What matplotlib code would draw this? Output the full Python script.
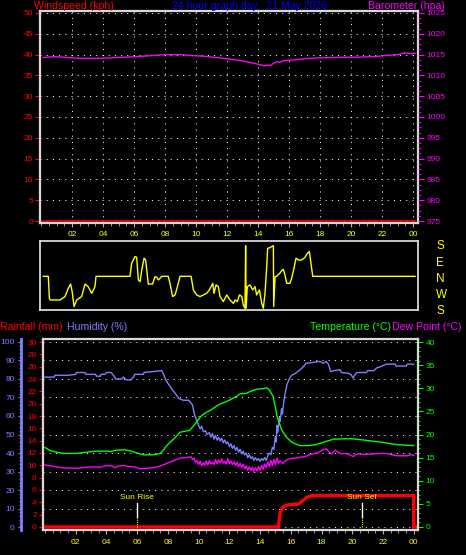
import numpy as np
import matplotlib
matplotlib.use('Agg')
import matplotlib.pyplot as plt
from matplotlib.ticker import MultipleLocator

plt.rcParams['font.family'] = ['Liberation Sans', 'DejaVu Sans']

# ---- data ----
hour_labels = ['02', '04', '06', '08', '10', '12', '14', '16', '18', '20', '22', '00']
hour_ticks = [2, 4, 6, 8, 10, 12, 14, 16, 18, 20, 22, 24]

wind_hours = [0.13, 24.13]
wind_speed = [0, 0]

baro_hours = [0.13, 0.8, 1.4, 2.0, 2.6, 3.5, 4.5, 5.5, 6.5, 7.3, 8.0, 9.0, 9.6, 10.5, 11.3,
              12.0, 12.8, 13.5, 14.0, 14.4, 14.6, 14.8, 15.0, 15.2, 15.4, 15.6, 16.2, 17.0,
              17.8, 19.0, 20.5, 21.5, 22.3, 23.0, 23.5, 23.9, 24.13]
baro_hpa = [1014.3, 1014.5, 1014.4, 1014.2, 1014.1, 1014.1, 1014.2, 1014.4, 1014.6, 1014.8,
            1015.0, 1015.0, 1014.8, 1014.6, 1014.3, 1014.0, 1013.6, 1013.1, 1012.7, 1012.3,
            1012.5, 1012.4, 1012.9, 1013.3, 1013.1, 1013.5, 1013.7, 1014.0, 1014.2, 1014.3,
            1014.4, 1014.5, 1014.8, 1015.0, 1015.4, 1015.2, 1015.3]

# wind direction, degrees unwrapped so that S = 180 (bottom) ... S = 540 (top)
dir_hours = [0.15, 0.47, 0.54, 0.6, 1.23, 1.55, 1.76, 1.91, 2.02, 2.13, 2.3, 2.62, 2.84, 3.05,
             3.27, 3.48, 3.55, 5.74, 5.85, 6.06, 6.17, 6.28, 6.39, 6.5, 6.65, 6.75, 6.92, 7.2,
             7.35, 7.46, 7.57, 7.68, 7.78, 8.21, 8.32, 8.49, 8.65, 8.8, 8.97, 9.68, 9.83, 10.04,
             10.26, 10.47, 10.69, 10.86, 11.08, 11.16, 11.29, 11.44, 11.55, 11.76, 11.98, 12.19,
             12.41, 12.52, 12.67, 12.8, 12.95, 13.05, 13.16, 13.2, 13.23, 13.31, 13.48, 13.66,
             13.81, 13.91, 14.09, 14.24, 14.34, 14.45, 14.56, 14.62, 14.77, 14.88, 14.99, 15.01,
             15.1, 15.2, 15.42, 15.53, 15.63, 15.74, 15.85, 16.06, 16.17, 16.32, 16.45, 16.6,
             16.82, 17.03, 17.18, 17.31, 17.4, 17.53, 24.13]
dir_deg = [365, 365, 242, 233, 233, 252, 298, 322, 274, 196, 233, 252, 322, 307,
           270, 307, 365, 365, 438, 475, 471, 345, 335, 400, 466, 456, 322, 322,
           363, 360, 345, 354, 365, 365, 326, 252, 261, 307, 365, 365, 289, 261,
           252, 261, 270, 289, 326, 270, 317, 307, 252, 224, 261, 233,
           214, 233, 224, 261, 252, 205, 187, 536, 187, 307, 317, 289,
           307, 261, 289, 214, 187, 270, 419, 521, 525, 531, 536, 196,
           363, 365, 384, 397, 404, 372, 326, 326, 354, 410, 466, 456,
           456, 471, 493, 503, 447, 365, 365]

hum_hours = [0.0, 0.6, 0.65, 1.5, 2.0, 2.05, 2.6, 2.65, 3.3, 3.35, 3.6, 3.65, 3.9, 4.0, 4.3, 4.5,
             4.6, 5.0, 5.1, 5.3, 5.6, 5.75, 5.85, 6.4, 6.45, 7.0, 7.6, 7.75, 7.85, 8.1, 8.3, 8.5,
             8.7, 9.0, 9.35, 9.5, 9.6, 9.7, 9.8, 9.9, 10.0, 10.1, 10.2, 10.3, 10.45, 10.55, 10.7,
             10.8, 10.9, 11.0, 11.1, 11.2, 11.3, 11.4, 11.5, 11.6, 11.7, 11.8, 11.9, 12.0, 12.1,
             12.2, 12.3, 12.4, 12.5, 12.6, 12.7, 12.8, 12.9, 13.0, 13.1, 13.2, 13.3, 13.4, 13.5,
             13.6, 13.7, 13.8, 13.9, 14.0, 14.1, 14.2, 14.3, 14.4, 14.5, 14.6, 14.7, 14.8, 14.9,
             15.0, 15.05, 15.1, 15.15, 15.25, 15.3, 15.4, 15.45, 15.55, 15.65, 15.75, 15.9, 16.05,
             16.3, 16.6, 16.8, 17.0, 17.5, 17.9, 18.1, 18.3, 18.45, 18.6, 18.8, 19.2, 19.3, 19.8,
             19.95, 20.05, 20.15, 20.3, 20.9, 21.0, 21.4, 21.6, 21.8, 22.2, 22.8, 22.85, 23.5,
             23.6, 24.0]
hum_pct = [81, 81, 82, 82, 82.5, 83.5, 83.5, 82.5, 82.5, 81.5, 81.5, 82.5, 82.5, 83.5, 83.5, 81.5,
           80, 80, 81, 79.5, 79.5, 81, 82.5, 82.5, 83.5, 84, 84.5, 82, 79.5, 76.5, 74, 72,
           69.5, 68.5, 68.5, 67, 66, 62, 59, 57, 55, 53, 54.5, 51.5, 52, 50, 51,
           48.5, 50.5, 47.5, 49.5, 47, 48.5, 46.5, 48, 45.5, 47, 45, 46, 43.5, 45,
           42.5, 44, 41.5, 43, 40.5, 42, 39.5, 41, 39, 40, 37.5, 39, 37, 38,
           36, 37.5, 36, 37, 35.5, 37, 36, 37.5, 36, 38.5, 40, 39, 43, 42,
           49, 46, 55, 51, 59, 57, 64, 61, 68, 73, 77, 80, 82,
           83, 85, 86.5, 88.5, 89, 89.5, 88.5, 89.5, 88, 84, 84.5, 85, 83.5, 83,
           82, 80.5, 82, 83.5, 83.5, 84.5, 84.5, 86, 86.5, 88, 88, 87, 87,
           88, 88]

temp_hours = [0.0, 0.3, 0.7, 1.2, 2.0, 2.5, 3.3, 4.0, 4.3, 4.6, 5.2, 5.6, 6.0, 6.4, 7.0, 7.5, 7.7,
              7.95, 8.2, 8.5, 8.8, 9.4, 9.6, 9.8, 10.0, 10.2, 10.5, 10.8, 11.1, 11.4, 11.8, 12.1,
              12.5, 12.7, 13.1, 13.5, 13.8, 14.2, 14.45, 14.65, 14.85, 15.0, 15.1, 15.2, 15.4,
              15.7, 16.0, 16.2, 16.6, 17.2, 17.6, 17.9, 18.4, 18.8, 19.9, 20.5, 21.0, 22.0, 22.5,
              23.0, 24.0]
temp_c = [17.2, 16.6, 16.2, 15.9, 15.9, 16.1, 16.4, 16.4, 16.3, 16.6, 16.7, 16.4, 16.0, 15.6,
          15.6, 15.9, 16.6, 17.7, 18.5, 19.4, 20.5, 20.9, 21.6, 22.4, 23.3, 24.1, 24.8, 25.3,
          26.0, 26.6, 27.1, 27.6, 28.3, 28.8, 28.9, 29.5, 29.8, 29.9, 30.1, 29.4, 28.2, 25.8,
          24.0, 23.0, 21.0, 19.5, 18.5, 18.1, 17.6, 17.6, 17.8, 18.1, 18.6, 19.0, 19.1, 18.9,
          18.7, 18.3, 18.0, 17.8, 17.6]

dew_hours = [0.0, 0.6, 1.1, 2.2, 2.6, 3.2, 3.6, 4.0, 4.4, 4.5, 4.7, 5.1, 5.4, 5.8, 6.2, 6.6, 7.0,
             7.3, 7.6, 8.1, 8.5, 8.8, 9.2, 9.5, 9.6, 9.7, 9.8, 9.9, 10.0, 10.1, 10.2, 10.3, 10.4,
             10.5, 10.6, 10.7, 10.8, 10.9, 11.0, 11.1, 11.2, 11.3, 11.4, 11.5, 11.6, 11.7, 11.8,
             11.9, 12.0, 12.1, 12.2, 12.3, 12.4, 12.5, 12.6, 12.7, 12.8, 12.9, 13.0, 13.1, 13.2,
             13.3, 13.4, 13.5, 13.6, 13.7, 13.8, 13.9, 14.0, 14.1, 14.2, 14.3, 14.4, 14.5, 14.6,
             14.7, 14.8, 14.9, 15.0, 15.1, 15.2, 15.3, 15.5, 15.6, 15.8, 16.0, 16.5, 17.0, 17.3,
             17.6, 17.9, 18.1, 18.3, 18.5, 18.65, 18.8, 18.9, 19.1, 19.35, 19.6, 19.9, 20.07,
             20.2, 20.4, 20.8, 21.4, 21.8, 22.2, 22.6, 22.9, 23.6, 23.8, 24.0]
dew_c = [13.4, 13.1, 12.8, 12.7, 12.9, 13.0, 12.9, 13.3, 13.2, 12.8, 13.1, 13.3, 13.1, 13.0, 12.6,
         12.7, 12.8, 13.0, 13.3, 14.0, 14.5, 14.9, 15.0, 15.2, 14.6, 14.9, 13.9, 14.4, 13.5,
         14.2, 13.2, 13.9, 13.3, 14.3, 13.4, 14.4, 13.6, 14.0, 13.5, 14.6, 13.7, 14.5, 13.9,
         14.7, 13.8, 14.2, 13.6, 14.8, 13.7, 14.3, 13.5, 14.1, 13.3, 14.0, 13.0, 13.8, 12.9,
         13.6, 12.6, 13.2, 12.3, 13.0, 12.2, 12.9, 12.0, 12.8, 12.1, 13.1, 12.3, 13.3, 12.5,
         13.6, 12.8, 14.1, 13.0, 14.4, 13.3, 14.6, 13.5, 14.9, 13.8, 14.3, 13.7, 14.2, 14.6,
         14.8, 15.0, 15.3, 15.7, 15.9, 16.3, 16.7, 16.9, 16.2, 15.8, 16.3, 16.6, 16.1, 15.8,
         15.9, 15.5, 15.2, 15.6, 15.8, 15.7, 15.8, 15.9, 15.9, 15.6, 15.4, 15.4, 15.6, 15.5]

rain_hours = [0.05, 15.19, 15.22, 15.3, 15.4, 15.52, 15.84, 16.49, 16.7, 17.04, 17.36, 24.0, 24.0, 24.28]
rain_mm = [0, 0, 0.7, 2.2, 2.9, 3.3, 3.6, 3.7, 4.1, 4.8, 5.1, 5.1, 0, 0]

sun_events = [('Sun Rise', 6.0), ('Sun Set', 20.65)]

# ---- figure layout in pixels ----
W, H = 466, 555
fig = plt.figure(figsize=(W / 100, H / 100), dpi=100, facecolor='black')


def px_axes(left, top, right, bottom):
    return fig.add_axes([left / W, 1 - bottom / H, (right - left) / W, (bottom - top) / H])


dots = (0, (1, 5.2))
frame_col = '#d8d8d8'
tick_col = '#b0b0b0'
yellow = '#ffff00'
hum_col = '#8080ff'

# ---- top panel: windspeed / barometer ----
ax_top = px_axes(40, 11, 418, 222.5)
ax_top.set_facecolor('black')
ax_top.set_xlim(-0.065, 24.32)
ax_top.set_ylim(-0.36, 50.48)
for s in ax_top.spines.values():
    s.set_color(frame_col)
    s.set_linewidth(1.6)
ax_top.plot(wind_hours, wind_speed, color='#ff0000', lw=1.2, zorder=3)
ax_top.yaxis.set_major_locator(MultipleLocator(5))
ax_top.yaxis.set_minor_locator(MultipleLocator(1))
ax_top.tick_params(axis='y', which='both', colors='#ff0000', labelsize=6, pad=1.5)
ax_top.tick_params(axis='y', which='major', length=3.5)
ax_top.tick_params(axis='y', which='minor', length=1.5)
ax_top.set_xticks(hour_ticks)
ax_top.set_xticklabels(hour_labels)
ax_top.xaxis.set_minor_locator(MultipleLocator(0.5))
ax_top.tick_params(axis='x', which='both', colors=tick_col, labelcolor=yellow, labelsize=6, pad=3)
ax_top.tick_params(axis='x', which='major', length=3)
ax_top.tick_params(axis='x', which='minor', length=2)
ax_top.grid(True, color='white', linestyle=dots, linewidth=0.72)

ax_baro = ax_top.twinx()
ax_baro.set_ylim(975 - 0.36, 975 + 50.48)
ax_baro.plot(baro_hours, baro_hpa, color='#ff00ff', lw=1.0)
ax_baro.yaxis.set_major_locator(MultipleLocator(5))
ax_baro.yaxis.set_minor_locator(MultipleLocator(1.25))
ax_baro.tick_params(axis='y', which='both', colors='#ff00ff', labelsize=6, pad=2)
ax_baro.tick_params(axis='y', which='major', length=4)
ax_baro.tick_params(axis='y', which='minor', length=2)
for s in ax_baro.spines.values():
    s.set_visible(False)

fig.text(34 / W, 1 - 6 / H, 'Windspeed (kph)', color='#ff0000', fontsize=7.6, va='center', ha='left')
fig.text(250 / W, 1 - 6 / H, '24 hour graph day : 21 May 2026', color='#0000ff', fontsize=7.6,
         va='center', ha='center')
fig.text(445 / W, 1 - 6 / H, 'Barometer (hpa)', color='#ff00ff', fontsize=7.6, va='center', ha='right')

# ---- wind direction strip ----
ax_dir = px_axes(40, 241, 418, 310)
ax_dir.set_facecolor('black')
ax_dir.set_xlim(-0.065, 24.32)
ax_dir.set_ylim(177, 562)
ax_dir.plot(dir_hours, dir_deg, color=yellow, lw=1.0)
for s in ax_dir.spines.values():
    s.set_color(frame_col)
    s.set_linewidth(1.3)
ax_dir.set_xticks([])
ax_dir.yaxis.tick_right()
ax_dir.set_yticks([180, 270, 360, 450, 540])
ax_dir.set_yticklabels(['S', 'W', 'N', 'E', 'S'])
ax_dir.tick_params(axis='y', length=0, pad=13, labelcolor=yellow, labelsize=8.5)

# ---- bottom panel: rain / humidity / temperature / dew point ----
ax_rain = px_axes(43, 339, 418, 530)
ax_rain.set_xlim(-0.13, 24.28)
ax_rain.set_ylim(-0.49, 30.49)
ax_rain.patch.set_visible(False)
ax_temp = ax_rain.twinx()
ax_temp.set_ylim(-0.65, 40.65)
ax_hum = ax_rain.twinx()
ax_hum.set_ylim(-1.6, 101.6)
ax_hum.set_zorder(1)
ax_temp.set_zorder(2)
ax_rain.set_zorder(3)

ax_hum.grid(True, color='white', linestyle=dots, linewidth=0.72)
ax_hum.set_xticks(hour_ticks)
ax_hum.plot(hum_hours, hum_pct, color=hum_col, lw=1.0)
ax_temp.plot(temp_hours, temp_c, color='#00ff00', lw=1.0)
ax_temp.plot(dew_hours, dew_c, color='#ff00ff', lw=1.0)
ax_rain.plot(rain_hours, rain_mm, color='#ff0000', lw=2.4, solid_joinstyle='miter')

for name, hr in sun_events:
    ax_rain.plot([hr, hr], [1.6, 3.9], color='white', lw=1.0)
    ax_rain.plot([hr, hr], [0, 1.6], color=yellow, lw=0.8, linestyle=(0, (1, 1)))
    ax_rain.text(hr, 4.75, name, color=yellow, fontsize=6, ha='center', va='center')

for s in ax_rain.spines.values():
    s.set_color(frame_col)
    s.set_linewidth(1.6)
for s in ax_temp.spines.values():
    s.set_visible(False)
for s in ax_hum.spines.values():
    s.set_visible(False)
ax_hum.spines['left'].set_visible(True)
ax_hum.spines['left'].set_position(('axes', -22 / 375))
ax_hum.spines['left'].set_color(hum_col)
ax_hum.spines['left'].set_linewidth(2)
ax_hum.yaxis.set_ticks_position('left')

ax_rain.yaxis.set_major_locator(MultipleLocator(2))
ax_rain.yaxis.set_minor_locator(MultipleLocator(0.5))
ax_rain.tick_params(axis='y', which='both', colors='#ff0000', labelsize=6, pad=1.5)
ax_rain.tick_params(axis='y', which='major', length=3)
ax_rain.tick_params(axis='y', which='minor', length=1.5)

ax_temp.yaxis.set_major_locator(MultipleLocator(5))
ax_temp.yaxis.set_minor_locator(MultipleLocator(1))
ax_temp.tick_params(axis='y', which='both', colors='#00ff00', labelsize=6, pad=2)
ax_temp.tick_params(axis='y', which='major', length=3.5)
ax_temp.tick_params(axis='y', which='minor', length=1.5)

ax_hum.yaxis.set_major_locator(MultipleLocator(10))
ax_hum.yaxis.set_minor_locator(MultipleLocator(2))
ax_hum.tick_params(axis='y', which='both', colors=hum_col, labelsize=6, pad=2)
ax_hum.tick_params(axis='y', which='major', length=2.5)
ax_hum.tick_params(axis='y', which='minor', length=1.2)

ax_rain.set_xticks(hour_ticks)
ax_rain.set_xticklabels(hour_labels)
ax_rain.xaxis.set_minor_locator(MultipleLocator(0.5))
ax_rain.tick_params(axis='x', which='both', colors=tick_col, labelcolor=yellow, labelsize=6, pad=3.5)
ax_rain.tick_params(axis='x', which='major', length=3)
ax_rain.tick_params(axis='x', which='minor', length=2)

fig.text(0 / W, 1 - 327 / H, 'Rainfall (mm)', color='#ff0000', fontsize=7.6, va='center', ha='left')
fig.text(67 / W, 1 - 327 / H, 'Humidity (%)', color=hum_col, fontsize=7.6, va='center', ha='left')
fig.text(391 / W, 1 - 327 / H, 'Temperature (°C)', color='#00ff00', fontsize=7.6, va='center', ha='right')
fig.text(392 / W, 1 - 327 / H, 'Dew Point (°C)', color='#ff00ff', fontsize=7.6, va='center', ha='left')

fig.savefig('out.png', dpi=100, facecolor='black')
